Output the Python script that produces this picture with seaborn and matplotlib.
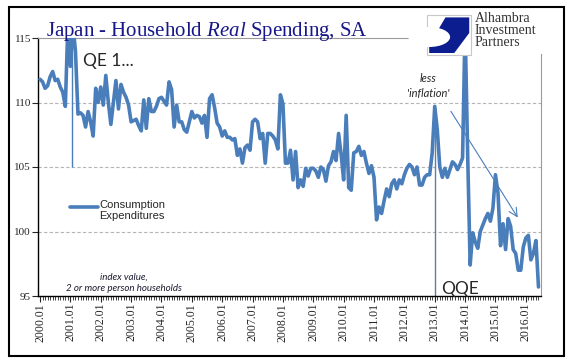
import numpy as np
import pandas as pd
import matplotlib
matplotlib.use("Agg")
import matplotlib.pyplot as plt
import seaborn as sns
from matplotlib.lines import Line2D
from matplotlib.patches import Rectangle, Polygon, Ellipse

# monthly index, 2000.01 .. 2016.06 (values above 115 are clipped by the axis)
spending = [
    111.8, 111.6, 111.1, 111.3, 112.0, 112.4, 111.7, 111.8, 111.2, 110.8, 109.7, 116.0,
    112.8, 116.0, 114.0, 109.1, 109.2, 109.0, 108.1, 109.3, 108.5, 107.4, 111.1, 110.0,
    111.2, 109.8, 112.1, 110.0, 108.3, 110.0, 111.7, 109.5, 111.4, 110.8, 110.4, 109.8,
    108.5, 108.6, 108.7, 108.2, 107.8, 110.2, 108.0, 110.3, 109.3, 109.3, 109.7, 110.3,
    110.4, 110.1, 109.8, 111.6, 111.0, 108.1, 109.8, 108.5, 108.5, 107.9, 107.7, 108.5,
    109.3, 108.8, 109.0, 108.9, 108.4, 109.0, 107.3, 110.3, 110.6, 109.6, 108.4, 108.1,
    107.4, 107.8, 107.3, 107.3, 107.1, 107.2, 105.9, 106.4, 105.3, 106.5, 106.7, 106.3,
    108.5, 108.7, 108.5, 107.2, 107.6, 105.3, 107.6, 107.6, 107.4, 107.1, 106.4, 110.6,
    109.9, 105.3, 105.3, 106.3, 104.0, 106.2, 103.4, 104.0, 103.5, 104.9, 104.3, 104.9,
    104.9, 104.7, 104.2, 105.0, 104.8, 103.9, 105.1, 105.4, 106.2, 105.5, 107.6, 106.0,
    104.0, 109.0, 103.4, 103.2, 106.1, 106.2, 106.6, 105.9, 106.2, 105.3, 104.5, 105.1,
    104.2, 100.9, 101.9, 101.4, 102.4, 103.3, 102.7, 103.7, 104.0, 103.3, 104.0, 103.7,
    104.4, 104.9, 105.2, 105.0, 104.4, 105.0, 103.6, 103.6, 104.2, 104.4, 104.4, 106.1,
    109.7, 107.9, 105.0, 104.2, 104.9, 104.2, 104.8, 105.4, 105.2, 104.8, 105.2, 105.7,
    116.0, 106.1, 97.4, 99.9, 99.2, 98.7, 100.0, 100.5, 101.0, 101.4, 100.8, 101.8,
    104.4, 103.0, 98.9, 100.6, 98.6, 101.0, 100.4, 98.6, 98.3, 97.0, 97.0, 98.8,
    99.5, 99.7, 97.8, 98.3, 99.3, 95.7,
]
years = list(range(2000, 2017))
year_labels = [f"{y}.01" for y in years]
y_ticks = [95, 100, 105, 110, 115]
grid_levels = [100, 105, 110]

BLUE = "#4a7ebb"
NAVY = "#17178a"
W, H = 570, 361

sns.set_style("white")
plt.rcParams["font.family"] = ["Liberation Serif", "DejaVu Serif"]
plt.rcParams["mathtext.fontset"] = "custom"
plt.rcParams["mathtext.rm"] = "Liberation Serif"
plt.rcParams["mathtext.it"] = "Liberation Serif:italic"


def fx(x):
    return x / W


def fy(y):
    return 1 - y / H


df = pd.DataFrame({"month": np.arange(len(spending)), "value": spending})

fig = plt.figure(figsize=(W / 100, H / 100), dpi=100)
ax = fig.add_axes([fx(38), fy(296), (541 - 38) / W, (296 - 38) / H])

for lvl in grid_levels:
    ax.axhline(lvl, color="#b4b4b4", lw=0.8, ls=(0, (3, 2)), zorder=1)

sns.lineplot(data=df, x="month", y="value", ax=ax, color=BLUE, lw=2.6, zorder=3)

ax.set_xlim(-0.8, 198)
ax.set_ylim(95, 115)
ax.set_xlabel("")
ax.set_ylabel("")

ax.set_xticks([12 * i for i in range(len(years))])
ax.set_xticklabels(year_labels, rotation=90, fontsize=8.5)
ax.set_xticks(np.arange(0, 198), minor=True)
ax.set_yticks(y_ticks)
ax.set_yticklabels([str(v) for v in y_ticks], fontsize=8)
ax.tick_params(axis="x", which="major", direction="out", length=4, width=0.8, pad=1)
ax.tick_params(axis="x", which="minor", direction="out", length=3, width=0.6)
ax.tick_params(axis="y", which="major", direction="out", length=4, width=0.8, pad=1)
ax.tick_params(bottom=True, left=True, which="both")

ax.spines["left"].set_color("black")
ax.spines["bottom"].set_color("black")
ax.spines["left"].set_linewidth(1.0)
ax.spines["bottom"].set_linewidth(1.0)
ax.spines["top"].set_color("#9a9a9a")
ax.spines["right"].set_color("#9a9a9a")
ax.spines["top"].set_linewidth(0.8)
ax.spines["right"].set_linewidth(0.8)

# QE 1 and QQE markers
ax.vlines(12.8, 105, 115, color=BLUE, lw=1.0, zorder=2)
ax.vlines(156, 95, 109.6, color="#5b7fa8", lw=1.0, zorder=2)

# trend arrow
ax.annotate("", xy=(189.4, 100.9), xytext=(161.8, 109.5),
            arrowprops=dict(arrowstyle="->,head_length=0.6,head_width=0.3",
                            color=BLUE, lw=0.8))

# annotations
fig.text(fx(83), fy(61), "QE 1...", fontsize=12.5, family="Lato", va="center", ha="left")
fig.text(fx(460), fy(289), "QQE", fontsize=12.5, family="Lato", va="center", ha="center")
fig.text(fx(428), fy(86), "less\n'inflation'", fontsize=8, family="Lato",
         style="italic", ha="center", va="center", linespacing=1.45)
fig.text(fx(124), fy(283), "index value,\n2 or more person households", fontsize=7,
         family="Lato", style="italic", ha="center", va="center", color="#1c1c30",
         linespacing=1.4)

# legend
fig.add_artist(Line2D([fx(70), fx(98)], [fy(206.5), fy(206.5)], color=BLUE, lw=2.6))
fig.text(fx(99), fy(200), "Consumption\nExpenditures", fontsize=8,
         family="Liberation Sans", va="top", ha="left", linespacing=1.1)

# title
fig.text(fx(46), fy(36), r"Japan - Household $\mathit{Real}$ Spending, SA",
         fontsize=15, color=NAVY, ha="left", va="baseline")

# logo block
fig.add_artist(Rectangle((fx(425), fy(54)), (549 - 425) / W, (54 - 9) / H,
                         transform=fig.transFigure, facecolor="white",
                         edgecolor="none", zorder=5))
lx0, ly0, lw_, lh_ = fx(427), fy(55), (471 - 427) / W, (55 - 15) / H
fig.add_artist(Rectangle((lx0, ly0), lw_, lh_, transform=fig.transFigure,
                         facecolor="white", edgecolor="#c8c8c8", lw=0.8, zorder=6))


def lp(u, v):
    return (lx0 + u * lw_, ly0 + v * lh_)


fig.add_artist(Polygon([lp(0.42, 0.94), lp(0.96, 0.94), lp(0.96, 0.55),
                        lp(0.62, 0.05), lp(0.05, 0.05), lp(0.05, 0.25)],
                       closed=True, transform=fig.transFigure,
                       facecolor="#0b1d8f", edgecolor="none", zorder=7))
fig.add_artist(Ellipse(lp(0.05, 0.45), 0.95 * lw_, 0.5 * lh_,
                       transform=fig.transFigure, facecolor="white",
                       edgecolor="none", zorder=8))
fig.text(fx(475), fy(30), "Alhambra\nInvestment\nPartners", fontsize=10,
         color="#333333", ha="left", va="center", linespacing=0.9, zorder=9)

# outer frame
fig.add_artist(Rectangle((fx(9), fy(356)), (564 - 9) / W, (356 - 7) / H,
                         transform=fig.transFigure, fill=False,
                         edgecolor="black", lw=1.5, zorder=10))

fig.savefig("out.png", dpi=100)
